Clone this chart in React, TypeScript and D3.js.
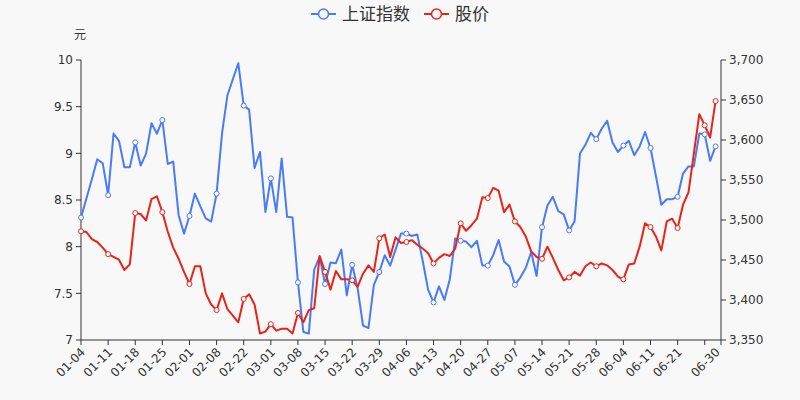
import React from "react";
import * as d3 from "d3";

const dates: string[] = [
  "01-04","01-05","01-06","01-07","01-08","01-11","01-12","01-13","01-14","01-15",
  "01-18","01-19","01-20","01-21","01-22","01-25","01-26","01-27","01-28","01-29",
  "02-01","02-02","02-03","02-04","02-05","02-08","02-09","02-10","02-18","02-19",
  "02-22","02-23","02-24","02-25","02-26","03-01","03-02","03-03","03-04","03-05",
  "03-08","03-09","03-10","03-11","03-12","03-15","03-16","03-17","03-18","03-19",
  "03-22","03-23","03-24","03-25","03-26","03-29","03-30","03-31","04-01","04-02",
  "04-06","04-07","04-08","04-09","04-12","04-13","04-14","04-15","04-16","04-19",
  "04-20","04-21","04-22","04-23","04-26","04-27","04-28","04-29","04-30","05-06",
  "05-07","05-10","05-11","05-12","05-13","05-14","05-17","05-18","05-19","05-20",
  "05-21","05-24","05-25","05-26","05-27","05-28","05-31","06-01","06-02","06-03",
  "06-04","06-07","06-08","06-09","06-10","06-11","06-15","06-16","06-17","06-18",
  "06-21","06-22","06-23","06-24","06-25","06-28","06-29","06-30",
];

const indexValues: number[] = [
  3503,3527,3551,3576,3571,3531,3608,3599,3566,3566,
  3597,3568,3583,3621,3608,3625,3570,3573,3506,3483,
  3505,3533,3517,3502,3498,3533,3608,3656,3676,3696,
  3643,3638,3565,3585,3510,3552,3510,3577,3504,3503,
  3422,3360,3358,3438,3454,3420,3447,3446,3463,3406,
  3444,3415,3368,3365,3419,3435,3456,3443,3463,3483,
  3483,3480,3482,3449,3413,3397,3417,3400,3426,3477,
  3474,3473,3466,3474,3443,3443,3456,3475,3448,3442,
  3419,3428,3440,3460,3430,3491,3518,3529,3511,3507,
  3487,3498,3583,3594,3609,3601,3614,3624,3597,3585,
  3593,3599,3581,3592,3610,3590,3555,3519,3526,3526,
  3529,3558,3567,3567,3608,3607,3574,3592,
];

const priceValues: number[] = [
  8.165,8.157,8.08,8.05,7.99,7.92,7.89,7.86,7.75,7.81,
  8.36,8.35,8.28,8.51,8.54,8.37,8.16,7.99,7.87,7.73,
  7.60,7.79,7.79,7.50,7.38,7.32,7.50,7.33,7.26,7.19,
  7.44,7.49,7.38,7.07,7.09,7.17,7.10,7.12,7.12,7.07,
  7.29,7.19,7.32,7.34,7.90,7.73,7.54,7.74,7.65,7.65,
  7.64,7.57,7.71,7.80,7.73,8.09,8.13,7.89,8.10,8.04,
  8.05,8.07,8.02,7.98,7.93,7.82,7.88,7.92,7.90,7.98,
  8.25,8.17,8.23,8.30,8.53,8.52,8.63,8.60,8.37,8.45,
  8.27,8.21,8.11,7.95,7.89,7.87,8.00,7.88,7.75,7.64,
  7.67,7.73,7.69,7.79,7.83,7.79,7.82,7.80,7.75,7.68,
  7.65,7.81,7.82,8.00,8.25,8.21,8.11,7.96,8.27,8.30,
  8.20,8.45,8.58,9.00,9.42,9.30,9.17,9.56,
];

const leftTicks: number[] = [7, 7.5, 8, 8.5, 9, 9.5, 10];
const rightTicks: number[] = [3350, 3400, 3450, 3500, 3550, 3600, 3650, 3700];
const seriesNames: string[] = ["上证指数", "股价"];

const BLUE = "#4a7bf7";
const RED = "#e8231a";
const AXIS = "#333";
const FONT = "'DejaVu Sans', 'Noto Sans CJK SC', sans-serif";

export default function App() {
  const W = 800, H = 400;
  const left = 81, right = 721, top = 60, bottom = 340;

  const x = d3.scaleLinear().domain([0, dates.length]).range([left, right]);
  const yL = d3.scaleLinear().domain([7, 10]).range([bottom, top]);
  const yR = d3.scaleLinear().domain([3350, 3700]).range([bottom, top]);

  const idxLine = d3.line<number>().x((_, i) => x(i)).y((d) => yR(d));
  const priceLine = d3.line<number>().x((_, i) => x(i)).y((d) => yL(d));

  const last = dates.length - 1;
  const markIdx = dates.map((_, i) => i).filter((i) => i % 5 === 0 || i === last);
  const tickIdx = dates.map((_, i) => i).filter((i) => i % 5 === 0);
  const labelIdx = tickIdx.filter((i) => i <= last - 6).concat([last]);

  const fmtR = d3.format(",");

  return (
    <svg
      width={W}
      height={H}
      style={{ position: "fixed", left: 0, top: 0, background: "#f8f8f8" }}
      fontFamily={FONT}
    >
      <rect x={0} y={0} width={W} height={H} fill="#f8f8f8" />

      {/* legend */}
      <g>
        <line x1={311} x2={336} y1={14} y2={14} stroke={BLUE} strokeWidth={2} />
        <circle cx={323.5} cy={14} r={5} fill="#f8f8f8" stroke={BLUE} strokeWidth={1.5} />
        <text x={342} y={14} dy="0.36em" fontSize={17} fill="#333">{seriesNames[0]}</text>
        <line x1={424} x2={449} y1={14} y2={14} stroke={RED} strokeWidth={2} />
        <circle cx={436.5} cy={14} r={5} fill="#f8f8f8" stroke={RED} strokeWidth={1.5} />
        <text x={455} y={14} dy="0.36em" fontSize={17} fill="#333">{seriesNames[1]}</text>
      </g>

      {/* unit */}
      <text x={80} y={39} fontSize={12} fill="#333" textAnchor="middle">元</text>

      {/* left axis */}
      <line x1={left} x2={left} y1={top} y2={bottom} stroke={AXIS} />
      {leftTicks.map((t) => (
        <g key={"l" + t}>
          <line x1={left - 5} x2={left} y1={yL(t)} y2={yL(t)} stroke={AXIS} />
          <text x={left - 8} y={yL(t)} dy="0.35em" textAnchor="end" fontSize={12} fill="#333">
            {String(t)}
          </text>
        </g>
      ))}

      {/* right axis */}
      <line x1={right} x2={right} y1={top} y2={bottom} stroke={AXIS} />
      {rightTicks.map((t) => (
        <g key={"r" + t}>
          <line x1={right} x2={right + 5} y1={yR(t)} y2={yR(t)} stroke={AXIS} />
          <text x={right + 8} y={yR(t)} dy="0.35em" textAnchor="start" fontSize={12} fill="#333">
            {fmtR(t)}
          </text>
        </g>
      ))}

      {/* x axis */}
      <line x1={left} x2={right} y1={bottom} y2={bottom} stroke={AXIS} />
      {tickIdx.concat([dates.length]).map((i) => (
        <line key={"xt" + i} x1={x(i)} x2={x(i)} y1={bottom} y2={bottom + 5} stroke={AXIS} />
      ))}
      {labelIdx.map((i) => (
        <text
          key={"xl" + i}
          transform={`translate(${x(i) + 2},${bottom + 10}) rotate(-45)`}
          textAnchor="end"
          dy="0.35em"
          fontSize={12}
          fill="#333"
        >
          {dates[i]}
        </text>
      ))}

      {/* series */}
      <path d={idxLine(indexValues) || ""} fill="none" stroke={BLUE} strokeWidth={2} strokeLinejoin="round" />
      <path d={priceLine(priceValues) || ""} fill="none" stroke={RED} strokeWidth={2} strokeLinejoin="round" />
      {markIdx.map((i) => (
        <circle key={"bi" + i} cx={x(i)} cy={yR(indexValues[i])} r={2.5} fill="#fff" stroke={BLUE} strokeWidth={1} />
      ))}
      {markIdx.map((i) => (
        <circle key={"pi" + i} cx={x(i)} cy={yL(priceValues[i])} r={2.5} fill="#fff" stroke={RED} strokeWidth={1} />
      ))}
    </svg>
  );
}
